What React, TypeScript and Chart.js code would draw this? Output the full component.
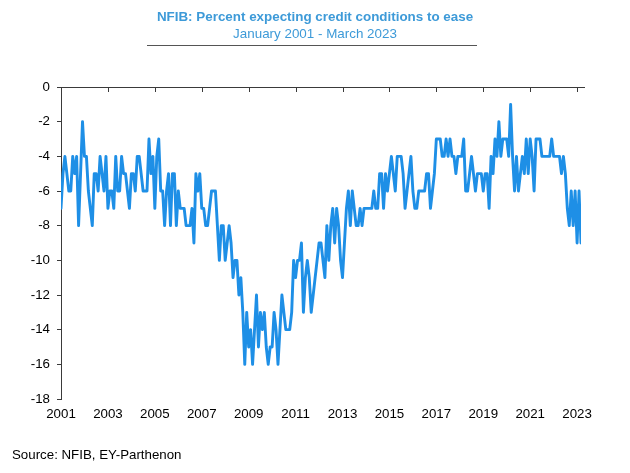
import React, { useEffect, useRef } from "react";
import { Chart, registerables } from "chart.js";

Chart.register(...registerables);

const startYear = 2001;
const xTickLabels = ["2001", "2003", "2005", "2007", "2009", "2011", "2013", "2015", "2017", "2019", "2021", "2023"];
const yTickValues = [0, -2, -4, -6, -8, -10, -12, -14, -16, -18];

const y2001 = [-7, -5, -4, -5, -6, -6, -4, -5, -4, -8, -5, -2];
const y2002 = [-4, -4, -6, -7, -8, -5, -5, -6, -4, -5, -6, -4];
const y2003 = [-7, -6, -6, -7, -4, -6, -6, -4, -5, -5, -6, -7];
const y2004 = [-5, -5, -6, -4, -4, -5, -6, -6, -6, -3, -5, -4];
const y2005 = [-7, -4, -3, -6, -6, -8, -6, -5, -8, -5, -5, -8];
const y2006 = [-6, -7, -7, -7, -8, -8, -8, -7, -9, -5, -6, -5];
const y2007 = [-7, -7, -8, -8, -7, -6, -6, -6, -8, -10, -8, -8];
const y2008 = [-10, -9, -8, -9, -11, -10, -10, -12, -11, -13, -16, -13];
const y2009 = [-15, -14, -16, -14, -12, -15, -13, -14, -13, -15, -16, -15];
const y2010 = [-15, -13, -14, -16, -14, -12, -13, -14, -14, -14, -13, -10];
const y2011 = [-11, -10, -10, -9, -13, -11, -10, -11, -13, -12, -11, -10];
const y2012 = [-9, -9, -10, -11, -8, -10, -8, -7, -9, -7, -8, -10];
const y2013 = [-11, -9, -7, -6, -8, -6, -7, -8, -8, -7, -8, -7];
const y2014 = [-7, -7, -7, -7, -6, -7, -7, -5, -5, -7, -5, -6];
const y2015 = [-5, -4, -5, -6, -4, -4, -4, -5, -7, -6, -5, -4];
const y2016 = [-6, -7, -7, -6, -6, -6, -6, -5, -5, -7, -6, -5];
const y2017 = [-3, -3, -3, -4, -4, -3, -4, -3, -4, -4, -5, -4];
const y2018 = [-4, -4, -3, -6, -6, -5, -4, -5, -6, -5, -5, -5];
const y2019 = [-6, -5, -5, -7, -4, -5, -3, -4, -2, -4, -3, -3];
const y2020 = [-3, -4, -1, -4, -6, -4, -6, -5, -4, -5, -3, -5];
const y2021 = [-3, -4, -6, -3, -3, -3, -4, -4, -4, -4, -4, -3];
const y2022 = [-4, -4, -4, -4, -5, -4, -5, -7, -8, -6, -8, -6];
const y2023 = [-9, -6, -9];

const series = [
  ...y2001, ...y2002, ...y2003, ...y2004, ...y2005, ...y2006, ...y2007, ...y2008,
  ...y2009, ...y2010, ...y2011, ...y2012, ...y2013, ...y2014, ...y2015, ...y2016,
  ...y2017, ...y2018, ...y2019, ...y2020, ...y2021, ...y2022, ...y2023,
];

const FONT = "'Liberation Sans', Arial, sans-serif";
const AXIS_COLOR = "#3a3a3a";

const topAxisPlugin = {
  id: "topAxis",
  afterDraw(chart: any) {
    const { ctx, chartArea, scales } = chart;
    const yPix = scales.y.getPixelForValue(0);
    ctx.save();
    ctx.strokeStyle = AXIS_COLOR;
    ctx.lineWidth = 1;
    ctx.beginPath();
    ctx.moveTo(chartArea.left, Math.round(yPix) + 0.5);
    ctx.lineTo(chartArea.right + 4, Math.round(yPix) + 0.5);
    scales.x.ticks.forEach((t: any) => {
      const xp = Math.round(scales.x.getPixelForValue(t.value)) + 0.5;
      ctx.moveTo(xp, Math.round(yPix));
      ctx.lineTo(xp, Math.round(yPix) + 5);
    });
    ctx.stroke();
    ctx.restore();
  },
};

export default function App() {
  const canvasRef = useRef<HTMLCanvasElement | null>(null);

  useEffect(() => {
    if (!canvasRef.current) return;
    const points = series.map((v, i) => ({ x: i / 12, y: v }));
    const chart = new Chart(canvasRef.current, {
      type: "line",
      data: {
        datasets: [
          {
            data: points,
            borderColor: "#1e8fe6",
            borderWidth: 2.9,
            pointRadius: 0,
            tension: 0,
            fill: false,
            borderJoinStyle: "round",
            borderCapStyle: "round",
          },
        ],
      },
      options: {
        animation: false,
        responsive: false,
        devicePixelRatio: 1,
        layout: { padding: { top: 87, right: 49, bottom: 0, left: 0 } },
        plugins: { legend: { display: false }, tooltip: { enabled: false }, title: { display: false } },
        scales: {
          x: {
            type: "linear",
            min: 0,
            max: (series.length - 1) / 12,
            position: "bottom",
            border: { display: false },
            grid: { display: false, drawTicks: false },
            afterBuildTicks: (scale: any) => {
              scale.ticks = xTickLabels.map((l) => ({ value: Number(l) - startYear }));
            },
            afterFit: (scale: any) => {
              scale.height = 74;
            },
            ticks: {
              autoSkip: false,
              maxRotation: 0,
              padding: 7,
              color: "#000",
              font: { family: FONT, size: 13.3 },
              callback: (v: any) => String(startYear + Number(v)),
            },
          },
          y: {
            type: "linear",
            min: -18,
            max: 0,
            border: { display: true, color: AXIS_COLOR, width: 1 },
            grid: { drawOnChartArea: false, drawTicks: true, tickLength: 4, color: AXIS_COLOR },
            afterBuildTicks: (scale: any) => {
              scale.ticks = yTickValues.map((v) => ({ value: v }));
            },
            afterFit: (scale: any) => {
              scale.width = 61;
            },
            ticks: {
              padding: 7,
              color: "#000",
              font: { family: FONT, size: 13.3 },
              callback: (v: any) => String(v),
            },
          },
        },
      },
      plugins: [topAxisPlugin],
    });
    return () => chart.destroy();
  }, []);

  const text: React.CSSProperties = {
    position: "absolute",
    left: 0,
    width: 630,
    textAlign: "center",
    fontFamily: FONT,
    fontSize: 13.4,
    lineHeight: "16px",
    color: "#3d9ad8",
    whiteSpace: "nowrap",
  };

  return (
    <div style={{ position: "absolute", left: 0, top: 0, width: 630, height: 473, background: "#fff", overflow: "hidden" }}>
      <canvas ref={canvasRef} width={630} height={473} style={{ position: "absolute", left: 0, top: 0, width: 630, height: 473 }} />
      <div style={{ ...text, top: 9, fontWeight: "bold" }}>NFIB: Percent expecting credit conditions to ease</div>
      <div style={{ ...text, top: 26 }}>January 2001 - March 2023</div>
      <div style={{ position: "absolute", left: 147, top: 45, width: 330, height: 1, background: "#555" }} />
      <div
        style={{
          position: "absolute",
          left: 12,
          top: 447,
          fontFamily: FONT,
          fontSize: 13.3,
          lineHeight: "16px",
          color: "#000",
          whiteSpace: "nowrap",
        }}
      >
        Source: NFIB, EY-Parthenon
      </div>
    </div>
  );
}
